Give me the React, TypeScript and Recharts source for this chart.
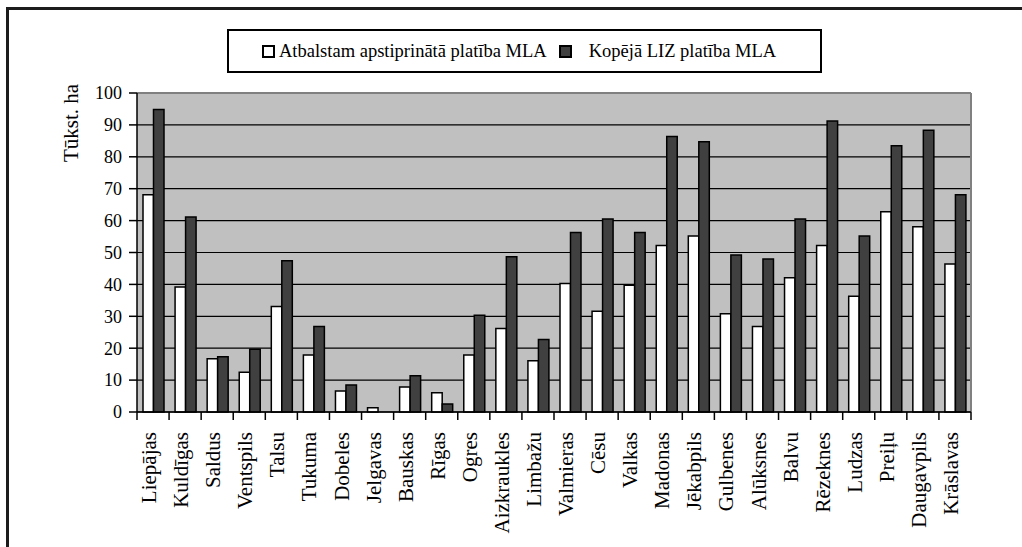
import React from 'react';
import { BarChart, Bar, XAxis, YAxis, CartesianGrid, ReferenceLine, Label } from 'recharts';

const categories = [
  'Liepājas', 'Kuldīgas', 'Saldus', 'Ventspils', 'Talsu', 'Tukuma', 'Dobeles', 'Jelgavas',
  'Bauskas', 'Rīgas', 'Ogres', 'Aizkraukles', 'Limbažu', 'Valmieras', 'Cēsu', 'Valkas',
  'Madonas', 'Jēkabpils', 'Gulbenes', 'Alūksnes', 'Balvu', 'Rēzeknes', 'Ludzas', 'Preiļu',
  'Daugavpils', 'Krāslavas',
];

const approvedArea = [
  68.1, 39.2, 16.7, 12.5, 33.1, 17.9, 6.6, 1.3, 7.8, 6.0, 17.9, 26.2, 16.1, 40.3, 31.6, 39.7,
  52.2, 55.2, 30.8, 26.8, 42.1, 52.2, 36.3, 62.8, 58.1, 46.4,
];

const totalArea = [
  94.8, 61.1, 17.3, 19.7, 47.4, 26.8, 8.5, 0, 11.4, 2.5, 30.3, 48.7, 22.7, 56.3, 60.5, 56.3,
  86.4, 84.7, 49.2, 48.0, 60.5, 91.2, 55.2, 83.5, 88.3, 68.1,
];

const yTicks = [0, 10, 20, 30, 40, 50, 60, 70, 80, 90, 100];
const seriesNames = ['Atbalstam apstiprinātā platība MLA', 'Kopējā LIZ platība MLA'];
const seriesColors = ['#ffffff', '#404040'];
const yAxisTitle = 'Tūkst. ha';

const data = categories.map((name, i) => ({
  name,
  approved: approvedArea[i],
  total: totalArea[i],
}));

const FONT = '"Liberation Serif", "Times New Roman", serif';

const XTick = (props: any) => {
  const { x, y, payload, index } = props;
  const half = payload && typeof payload.offset === 'number' && payload.offset > 0 ? payload.offset : 16;
  const last = index === categories.length - 1;
  return (
    <g>
      <line x1={x - half} x2={x - half} y1={y} y2={y + 8} stroke="#000" strokeWidth={1.5} />
      {last && <line x1={x + half} x2={x + half} y1={y} y2={y + 8} stroke="#000" strokeWidth={1.5} />}
      <text
        x={0}
        y={0}
        transform={`translate(${x - 4},${y + 20}) rotate(-90)`}
        textAnchor="end"
        dominantBaseline="central"
        fontFamily={FONT}
        fontSize={21}
        fill="#000"
      >
        {payload.value}
      </text>
    </g>
  );
};

const YTitle = (props: any) => {
  const vb = props.viewBox || { x: 87, y: 93, width: 50, height: 319 };
  const cx = vb.x - 9;
  const cy = vb.y + 30;
  return (
    <text
      x={0}
      y={0}
      transform={`translate(${cx},${cy}) rotate(-90)`}
      textAnchor="middle"
      fontFamily={FONT}
      fontSize={21}
      fill="#000"
    >
      {yAxisTitle}
    </text>
  );
};

export default function App() {
  return (
    <div style={{ position: 'absolute', left: 0, top: 0, width: 1022, height: 547, overflow: 'hidden', background: '#fff' }}>
      <div
        style={{
          position: 'absolute',
          left: 6,
          top: 7,
          width: 1100,
          height: 600,
          border: '3px solid #1c1c1c',
          boxSizing: 'border-box',
        }}
      />
      <div
        style={{
          position: 'absolute',
          left: 227,
          top: 29,
          width: 595,
          height: 44,
          border: '2px solid #000',
          boxSizing: 'border-box',
          display: 'flex',
          alignItems: 'center',
          justifyContent: 'flex-start',
          paddingLeft: 33,
          fontFamily: FONT,
          fontSize: 18.5,
          color: '#000',
          background: '#fff',
        }}
      >
        {seriesNames.map((n, i) => (
          <div key={n} style={{ display: 'flex', alignItems: 'center', marginLeft: i === 0 ? 0 : 12 }}>
            <span
              style={{
                display: 'inline-block',
                width: 13,
                height: 13,
                boxSizing: 'border-box',
                border: '2px solid #000',
                background: seriesColors[i],
                marginRight: i === 0 ? 4 : 17,
              }}
            />
            <span style={{ whiteSpace: 'nowrap' }}>{n}</span>
          </div>
        ))}
      </div>
      <div style={{ position: 'absolute', left: 0, top: 0 }}>
        <BarChart
          width={1022}
          height={547}
          data={data}
          margin={{ top: 93, right: 51, bottom: 105, left: 87 }}
          barGap={0}
        >
          <CartesianGrid vertical={false} stroke="#000" strokeWidth={1.2} fill="#c0c0c0" fillOpacity={1} />
          <ReferenceLine y={100} stroke="#808080" strokeWidth={2} />
          <ReferenceLine x="Krāslavas" position="end" stroke="#808080" strokeWidth={2} />
          <XAxis
            dataKey="name"
            height={30}
            interval={0}
            tickSize={0}
            tickMargin={0}
            tickLine={false}
            axisLine={{ stroke: '#000', strokeWidth: 1.5 }}
            tick={<XTick />}
          />
          <YAxis
            width={50}
            domain={[0, 100]}
            ticks={yTicks}
            interval={0}
            tickSize={8}
            tickMargin={7}
            axisLine={{ stroke: '#000', strokeWidth: 1.5 }}
            tickLine={{ stroke: '#000', strokeWidth: 1.5 }}
            tick={{ fill: '#000', fontFamily: FONT, fontSize: 18 }}
          >
            <Label content={<YTitle />} />
          </YAxis>
          <Bar dataKey="approved" name={seriesNames[0]} fill={seriesColors[0]} stroke="#000" strokeWidth={1.5} barSize={10.5} isAnimationActive={false} />
          <Bar dataKey="total" name={seriesNames[1]} fill={seriesColors[1]} stroke="#000" strokeWidth={1.5} barSize={10.5} isAnimationActive={false} />
        </BarChart>
      </div>
    </div>
  );
}
